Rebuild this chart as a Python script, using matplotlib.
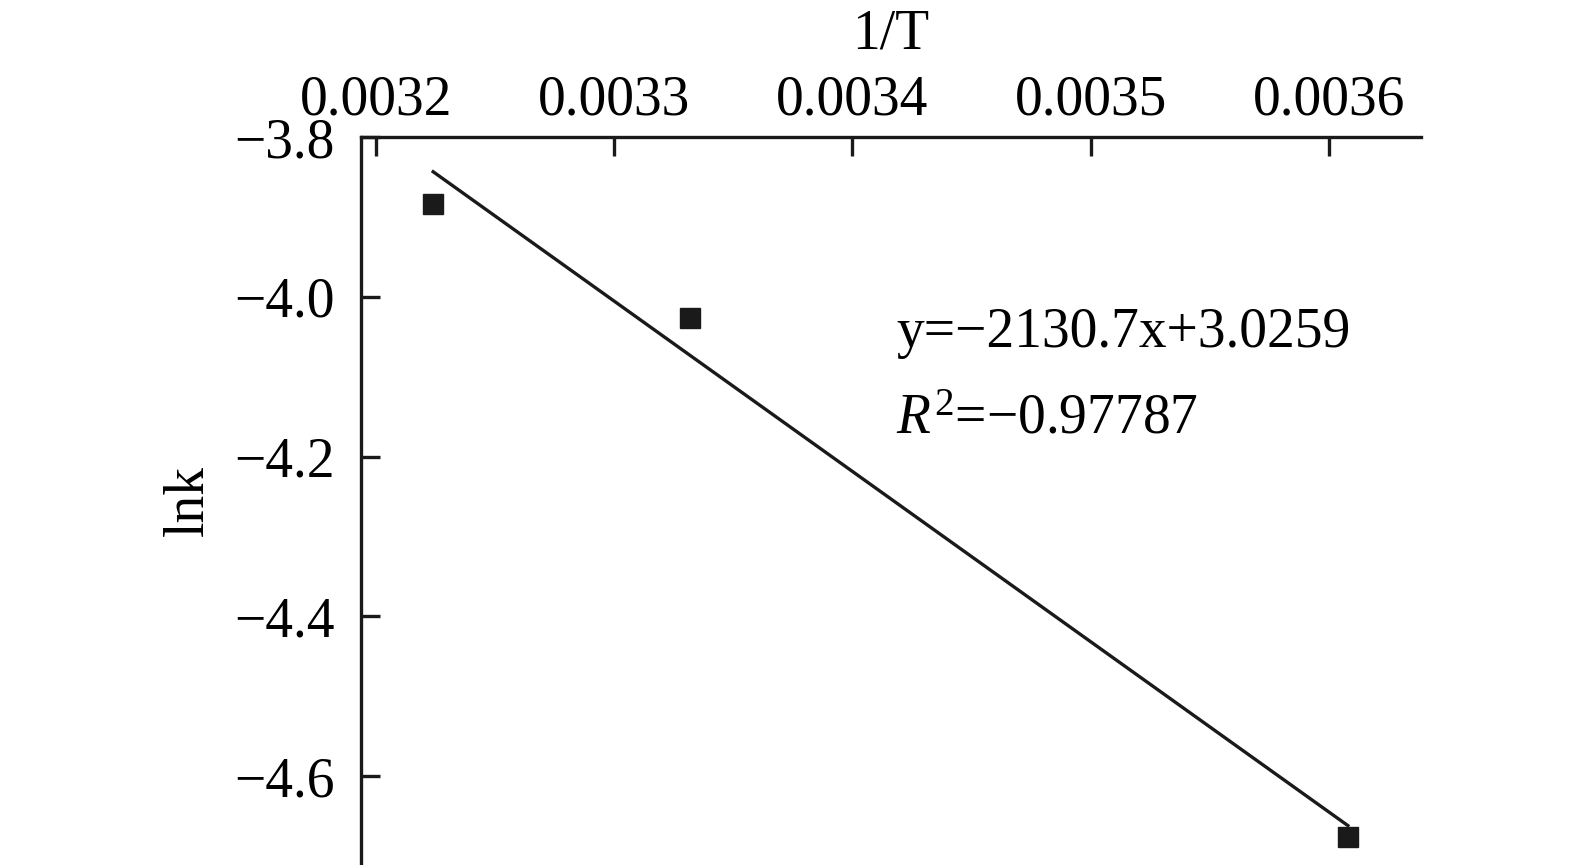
import numpy as np
import matplotlib
matplotlib.use("Agg")
import matplotlib.pyplot as plt

plt.rcParams['font.family'] = ['Liberation Serif', 'DejaVu Serif']
plt.rcParams['mathtext.fontset'] = 'custom'
plt.rcParams['mathtext.rm'] = 'Liberation Serif'
plt.rcParams['mathtext.it'] = 'Liberation Serif:italic'

# data
inv_T = [0.003224, 0.003332, 0.003608]
lnk = [-3.884, -4.026, -4.676]
slope = -2130.7
intercept = 3.0259
xticks = [0.0032, 0.0033, 0.0034, 0.0035, 0.0036]
yticks = [-3.8, -4.0, -4.2, -4.4, -4.6]

fig = plt.figure(figsize=(15.75, 8.65), dpi=100)
ax = fig.add_axes([361/1575, 0.0, (1421-361)/1575, 1 - 137/865])

xfit = np.array([inv_T[0], inv_T[-1]])
ax.plot(xfit, slope*xfit + intercept, color='#1a1a1a', lw=2.4)
ax.plot(inv_T, lnk, 's', color='#1a1a1a', ms=14)

ax.set_xlim(0.0031937, 0.0036387)
ax.set_ylim(-4.711, -3.8)
ax.xaxis.tick_top()
ax.xaxis.set_label_position('top')
ax.set_xticks(xticks)
ax.set_xticklabels(['%.4f' % v for v in xticks])
ax.set_yticks(yticks)
ax.set_yticklabels(['\u2212%.1f' % abs(v) for v in yticks])
ax.tick_params(direction='in', length=14, width=2.4, labelsize=40, color='#1a1a1a')
ax.tick_params(axis='x', pad=7.5)
ax.tick_params(axis='y', pad=19)
ax.spines['bottom'].set_visible(False)
ax.spines['right'].set_visible(False)
for s in ['top', 'left']:
    ax.spines[s].set_linewidth(2.4)
    ax.spines[s].set_color('#1a1a1a')

ax.set_xlabel('1/T', fontsize=40, labelpad=19)
ax.set_ylabel('lnk', fontsize=40, labelpad=14)

ax.text(0.505, 0.711, 'y=\u22122130.7x+3.0259', transform=ax.transAxes, fontsize=40)
ax.text(0.505, 0.593, '$R^{\\mathrm{2}}$=\u22120.97787', transform=ax.transAxes, fontsize=40)

fig.savefig('out.png', dpi=100)
